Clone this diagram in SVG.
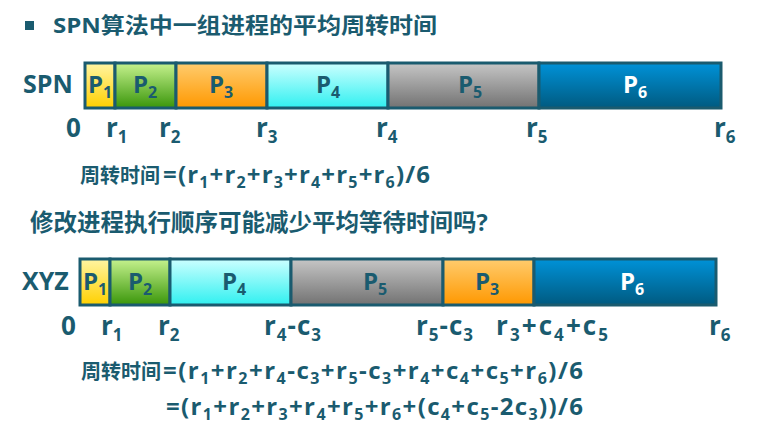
<svg xmlns="http://www.w3.org/2000/svg" width="762" height="435" viewBox="0 0 762 435">
<style>
text{font-family:"Open Sans","Noto Sans CJK SC",sans-serif;font-weight:bold;fill:#1a5b6f}
.t{font-size:22px}
.q{font-size:23.5px}
.lab{font-size:25px}
.pl{font-size:24px;text-anchor:middle}
.tk{font-size:26px}
.f{font-size:24px}
.c{font-size:20px}
.s{font-size:16px}
.ps{font-size:16px}
.sk{font-size:17px}
.cell{stroke:#1a5b6f;stroke-width:3}
.w{fill:#ffffff}
</style>
<defs>
<linearGradient id="g1" x1="0" y1="0" x2="0" y2="1"><stop offset="0" stop-color="#fff5a3"/><stop offset="1" stop-color="#ffd000"/></linearGradient>
<linearGradient id="g2" x1="0" y1="0" x2="0" y2="1"><stop offset="0" stop-color="#c6f28e"/><stop offset="1" stop-color="#3a960a"/></linearGradient>
<linearGradient id="g3" x1="0" y1="0" x2="0" y2="1"><stop offset="0" stop-color="#ffcc6e"/><stop offset="1" stop-color="#ff9800"/></linearGradient>
<linearGradient id="g4" x1="0" y1="0" x2="0" y2="1"><stop offset="0" stop-color="#ccffff"/><stop offset="1" stop-color="#30f0f0"/></linearGradient>
<linearGradient id="g5" x1="0" y1="0" x2="0" y2="1"><stop offset="0" stop-color="#c6c6c6"/><stop offset="1" stop-color="#727272"/></linearGradient>
<linearGradient id="g6" x1="0" y1="0" x2="0" y2="1"><stop offset="0" stop-color="#0092d8"/><stop offset="1" stop-color="#005a80"/></linearGradient>
</defs>

<g id="title">
<rect x="25" y="21" width="9" height="9" fill="#1a5b6f"/>
<text x="53" y="33" class="t" textLength="384" lengthAdjust="spacingAndGlyphs">SPN算法中一组进程的平均周转时间</text>
</g>

<!-- SPN row -->
<g id="spn-label"><text x="23" y="93" class="lab">SPN</text></g>
<g id="spn-p1"><rect class="cell" x="85" y="63" width="30" height="45" fill="url(#g1)"/><text x="100" y="93" class="pl">P<tspan class="ps" dy="5">1</tspan></text></g>
<g id="spn-p2"><rect class="cell" x="115" y="63" width="61" height="45" fill="url(#g2)"/><text x="145" y="93" class="pl">P<tspan class="ps" dy="5">2</tspan></text></g>
<g id="spn-p3"><rect class="cell" x="176" y="63" width="91" height="45" fill="url(#g3)"/><text x="221" y="93" class="pl">P<tspan class="ps" dy="5">3</tspan></text></g>
<g id="spn-p4"><rect class="cell" x="267" y="63" width="121" height="45" fill="url(#g4)"/><text x="328" y="93" class="pl">P<tspan class="ps" dy="5">4</tspan></text></g>
<g id="spn-p5"><rect class="cell" x="388" y="63" width="151" height="45" fill="url(#g5)"/><text x="470" y="93" class="pl">P<tspan class="ps" dy="5">5</tspan></text></g>
<g id="spn-p6"><rect class="cell" x="539" y="63" width="182" height="45" fill="url(#g6)"/><text x="635" y="93" class="pl w">P<tspan class="ps" dy="5">6</tspan></text></g>

<g id="spn-ticks">
<text x="66" y="137" class="tk">0</text>
<text x="106" y="137" class="tk">r<tspan class="sk" dy="6">1</tspan></text>
<text x="159" y="137" class="tk">r<tspan class="sk" dy="6">2</tspan></text>
<text x="256" y="137" class="tk">r<tspan class="sk" dy="6">3</tspan></text>
<text x="376" y="137" class="tk">r<tspan class="sk" dy="6">4</tspan></text>
<text x="526" y="137" class="tk">r<tspan class="sk" dy="6">5</tspan></text>
<text x="714" y="137" class="tk">r<tspan class="sk" dy="6">6</tspan></text>
</g>

<g id="formula1">
<text x="80" y="183" class="c">周转时间</text>
<text x="163" y="183" class="f" textLength="267" lengthAdjust="spacing">=(r<tspan class="s" dy="5">1</tspan><tspan dy="-5">+r</tspan><tspan class="s" dy="5">2</tspan><tspan dy="-5">+r</tspan><tspan class="s" dy="5">3</tspan><tspan dy="-5">+r</tspan><tspan class="s" dy="5">4</tspan><tspan dy="-5">+r</tspan><tspan class="s" dy="5">5</tspan><tspan dy="-5">+r</tspan><tspan class="s" dy="5">6</tspan><tspan dy="-5">)/6</tspan></text>
</g>

<g id="question">
<text x="30" y="231" class="q">修改进程执行顺序可能减少平均等待时间吗?</text>
</g>

<!-- XYZ row -->
<g id="xyz-label"><text x="22" y="290" class="lab">XYZ</text></g>
<g id="xyz-p1"><rect class="cell" x="80" y="259" width="30" height="46" fill="url(#g1)"/><text x="95" y="290" class="pl">P<tspan class="ps" dy="5">1</tspan></text></g>
<g id="xyz-p2"><rect class="cell" x="110" y="259" width="60" height="46" fill="url(#g2)"/><text x="140" y="290" class="pl">P<tspan class="ps" dy="5">2</tspan></text></g>
<g id="xyz-p4"><rect class="cell" x="170" y="259" width="121" height="46" fill="url(#g4)"/><text x="234" y="290" class="pl">P<tspan class="ps" dy="5">4</tspan></text></g>
<g id="xyz-p5"><rect class="cell" x="291" y="259" width="152" height="46" fill="url(#g5)"/><text x="375" y="290" class="pl">P<tspan class="ps" dy="5">5</tspan></text></g>
<g id="xyz-p3"><rect class="cell" x="443" y="259" width="91" height="46" fill="url(#g3)"/><text x="487" y="290" class="pl">P<tspan class="ps" dy="5">3</tspan></text></g>
<g id="xyz-p6"><rect class="cell" x="534" y="259" width="182" height="46" fill="url(#g6)"/><text x="632" y="290" class="pl w">P<tspan class="ps" dy="5">6</tspan></text></g>

<g id="xyz-ticks">
<text x="61" y="335" class="tk">0</text>
<text x="101" y="335" class="tk">r<tspan class="sk" dy="6">1</tspan></text>
<text x="158" y="335" class="tk">r<tspan class="sk" dy="6">2</tspan></text>
<text x="264" y="335" class="tk" textLength="57" lengthAdjust="spacing">r<tspan class="sk" dy="6">4</tspan><tspan dy="-6">-c</tspan><tspan class="sk" dy="6">3</tspan></text>
<text x="416" y="335" class="tk" textLength="57" lengthAdjust="spacing">r<tspan class="sk" dy="6">5</tspan><tspan dy="-6">-c</tspan><tspan class="sk" dy="6">3</tspan></text>
<text x="496" y="335" class="tk" textLength="112" lengthAdjust="spacing">r<tspan class="sk" dy="6">3</tspan><tspan dy="-6">+c</tspan><tspan class="sk" dy="6">4</tspan><tspan dy="-6">+c</tspan><tspan class="sk" dy="6">5</tspan></text>
<text x="709" y="335" class="tk">r<tspan class="sk" dy="6">6</tspan></text>
</g>

<g id="formula2">
<text x="81" y="379" class="c">周转时间</text>
<text x="163" y="379" class="f" textLength="420" lengthAdjust="spacing">=(r<tspan class="s" dy="5">1</tspan><tspan dy="-5">+r</tspan><tspan class="s" dy="5">2</tspan><tspan dy="-5">+r</tspan><tspan class="s" dy="5">4</tspan><tspan dy="-5">-c</tspan><tspan class="s" dy="5">3</tspan><tspan dy="-5">+r</tspan><tspan class="s" dy="5">5</tspan><tspan dy="-5">-c</tspan><tspan class="s" dy="5">3</tspan><tspan dy="-5">+r</tspan><tspan class="s" dy="5">4</tspan><tspan dy="-5">+c</tspan><tspan class="s" dy="5">4</tspan><tspan dy="-5">+c</tspan><tspan class="s" dy="5">5</tspan><tspan dy="-5">+r</tspan><tspan class="s" dy="5">6</tspan><tspan dy="-5">)/6</tspan></text>
<text x="166" y="415" class="f" textLength="417" lengthAdjust="spacing">=(r<tspan class="s" dy="5">1</tspan><tspan dy="-5">+r</tspan><tspan class="s" dy="5">2</tspan><tspan dy="-5">+r</tspan><tspan class="s" dy="5">3</tspan><tspan dy="-5">+r</tspan><tspan class="s" dy="5">4</tspan><tspan dy="-5">+r</tspan><tspan class="s" dy="5">5</tspan><tspan dy="-5">+r</tspan><tspan class="s" dy="5">6</tspan><tspan dy="-5">+(c</tspan><tspan class="s" dy="5">4</tspan><tspan dy="-5">+c</tspan><tspan class="s" dy="5">5</tspan><tspan dy="-5">-2c</tspan><tspan class="s" dy="5">3</tspan><tspan dy="-5">))/6</tspan></text>
</g>
</svg>
